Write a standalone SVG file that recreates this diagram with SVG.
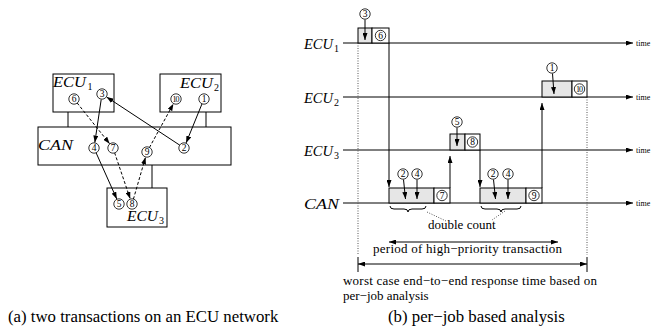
<svg xmlns="http://www.w3.org/2000/svg" width="653" height="328" viewBox="0 0 653 328">
<style>
.box{fill:#fff;stroke:#000;stroke-width:1}
.job{fill:#e6e6e6;stroke:#000;stroke-width:1}
.ln{fill:none;stroke:#000;stroke-width:1}
.dot{fill:none;stroke:#555;stroke-width:1;stroke-dasharray:1,1.5}
.arr{fill:none;stroke:#000;stroke-width:1;marker-end:url(#ah)}
.arrd{fill:none;stroke:#000;stroke-width:1;stroke-dasharray:3,2;marker-end:url(#ah)}
.cn circle{fill:#fff;stroke:#000;stroke-width:0.8}
.cn text{font-size:9.5px;text-anchor:middle}
.cn text.ten{font-size:8px;letter-spacing:-0.9px}
.lbl{font-style:italic;font-size:15px}
.sub{font-size:10px}
.txt{font-size:13px}
.cap{font-size:16.8px}
.time{font-size:8px}
</style>
<defs>
<marker id="ah" markerWidth="7" markerHeight="5" refX="7" refY="2.5" orient="auto" markerUnits="userSpaceOnUse"><path d="M0,0 L7,2.5 L0,5 z" fill="#000"/></marker>
<marker id="ahs" markerWidth="7" markerHeight="5" refX="0" refY="2.5" orient="auto" markerUnits="userSpaceOnUse"><path d="M7,0 L0,2.5 L7,5 z" fill="#000"/></marker>
</defs>
<g font-family="'Liberation Serif', 'Times New Roman', 'DejaVu Serif', serif">

<!-- (a) network -->
<g id="links-a">
<line class="ln" x1="68" y1="112" x2="68" y2="127"/>
<line class="ln" x1="206" y1="112" x2="206" y2="127"/>
<line class="ln" x1="152" y1="165" x2="152" y2="188"/>
</g>
<g id="ECU1-a">
<rect class="box" x="53" y="74" width="61" height="38"/>
<text class="lbl" x="53" y="87" textLength="33" lengthAdjust="spacingAndGlyphs">ECU</text><text class="sub" x="87.5" y="90">1</text>
</g>
<g id="ECU2-a">
<rect class="box" x="160" y="74" width="61" height="38"/>
<text class="lbl" x="180" y="88" textLength="33" lengthAdjust="spacingAndGlyphs">ECU</text><text class="sub" x="214" y="91">2</text>
</g>
<g id="CAN-a">
<rect class="box" x="38" y="127" width="193" height="38"/>
<text class="lbl" x="38" y="150" textLength="35" lengthAdjust="spacingAndGlyphs">CAN</text>
</g>
<g id="ECU3-a">
<rect class="box" x="107" y="188" width="60" height="39"/>
<text class="lbl" x="127" y="221" textLength="31" lengthAdjust="spacingAndGlyphs">ECU</text><text class="sub" x="159" y="224">3</text>
</g>
<g id="connectors-a">
<line class="arr" x1="101.2" y1="99.5" x2="94.8" y2="142.6"/>
<line class="arrd" x1="77.1" y1="102.9" x2="109.6" y2="143.7"/>
<line class="arr" x1="179.8" y1="145.2" x2="106.6" y2="97"/>
<line class="arr" x1="202.1" y1="103.6" x2="186.1" y2="142.9"/>
<line class="arr" x1="96" y1="152.6" x2="116.8" y2="199"/>
<line class="arrd" x1="114.6" y1="152.7" x2="130.2" y2="198.8"/>
<line class="arrd" x1="133.4" y1="199.2" x2="145.5" y2="157.3"/>
<line class="arrd" x1="149.4" y1="147.6" x2="173.4" y2="103.8"/>
</g>
<g id="nums-a" class="cn">
<circle cx="74" cy="99" r="5.2"/><text x="74" y="102.3">6</text>
<circle cx="102" cy="94" r="5.2"/><text x="102" y="97.3">3</text>
<circle cx="176" cy="99" r="5.2"/><text class="ten" x="175.6" y="101.8">10</text>
<circle cx="204" cy="99" r="5.2"/><text x="204" y="102.3">1</text>
<circle cx="94" cy="148" r="5.2"/><text x="94" y="151.3">4</text>
<circle cx="113" cy="148" r="5.2"/><text x="113" y="151.3">7</text>
<circle cx="147" cy="152" r="5.2"/><text x="147" y="155.3">9</text>
<circle cx="184" cy="148" r="5.2"/><text x="184" y="151.3">2</text>
<circle cx="119" cy="204" r="5.2"/><text x="119" y="207.3">5</text>
<circle cx="132" cy="204" r="5.2"/><text x="132" y="207.3">8</text>
</g>

<!-- (b) timeline -->
<g id="timelines">
<line class="arr" x1="343" y1="43" x2="633" y2="43"/>
<line class="arr" x1="343" y1="97" x2="633" y2="97"/>
<line class="arr" x1="343" y1="150" x2="633" y2="150"/>
<line class="arr" x1="343" y1="203" x2="633" y2="203"/>
<text class="time" x="636" y="46">time</text>
<text class="time" x="636" y="100">time</text>
<text class="time" x="636" y="153">time</text>
<text class="time" x="636" y="206">time</text>
<text class="lbl" x="304" y="49" textLength="29" lengthAdjust="spacingAndGlyphs">ECU</text><text class="sub" x="334" y="52">1</text>
<text class="lbl" x="304" y="103" textLength="29" lengthAdjust="spacingAndGlyphs">ECU</text><text class="sub" x="334" y="106">2</text>
<text class="lbl" x="304" y="156" textLength="29" lengthAdjust="spacingAndGlyphs">ECU</text><text class="sub" x="334" y="159">3</text>
<text class="lbl" x="304" y="209" textLength="35" lengthAdjust="spacingAndGlyphs">CAN</text>
</g>
<g id="guides">
<line class="dot" x1="358" y1="43" x2="358" y2="255"/>
<line class="dot" x1="587" y1="97" x2="587" y2="255"/>
</g>
<g id="job-ecu1">
<rect class="job" x="358" y="28" width="14" height="15"/>
<rect class="box" x="372" y="28" width="17" height="15"/>
</g>
<g id="job-can1">
<rect class="job" x="389" y="188" width="45" height="15"/>
<rect class="box" x="434" y="188" width="16" height="15"/>
</g>
<g id="job-ecu3">
<rect class="job" x="450" y="134" width="15" height="16"/>
<rect class="box" x="465" y="134" width="15" height="16"/>
</g>
<g id="job-can2">
<rect class="job" x="480" y="188" width="46" height="15"/>
<rect class="box" x="526" y="188" width="16" height="15"/>
</g>
<g id="job-ecu2">
<rect class="job" x="542" y="81" width="30" height="16"/>
<rect class="box" x="572" y="81" width="15" height="16"/>
</g>
<g id="connectors-b">
<line class="arr" x1="389" y1="43" x2="389" y2="187"/>
<line class="arr" x1="450" y1="188" x2="450" y2="156"/>
<line class="arr" x1="480" y1="150" x2="480" y2="187"/>
<line class="arr" x1="542" y1="188" x2="542" y2="103"/>
<line class="arr" x1="365" y1="19.5" x2="365" y2="40"/>
<line class="arr" x1="403.5" y1="179.5" x2="405.5" y2="199"/>
<line class="arr" x1="417" y1="179.5" x2="417" y2="199"/>
<line class="arr" x1="457" y1="127.5" x2="457" y2="146"/>
<line class="arr" x1="493.5" y1="179.5" x2="495.5" y2="199"/>
<line class="arr" x1="508" y1="179.5" x2="508" y2="199"/>
<line class="arr" x1="552.5" y1="73.5" x2="554" y2="94"/>
</g>
<g id="nums-b" class="cn">
<circle cx="365" cy="14" r="5.2"/><text x="365" y="17.3">3</text>
<circle cx="380.5" cy="35.5" r="5.2"/><text x="380.5" y="38.8">6</text>
<circle cx="403" cy="174" r="5.2"/><text x="403" y="177.3">2</text>
<circle cx="417" cy="174" r="5.2"/><text x="417" y="177.3">4</text>
<circle cx="442" cy="195.5" r="5.2"/><text x="442" y="198.8">7</text>
<circle cx="457" cy="122" r="5.2"/><text x="457" y="125.3">5</text>
<circle cx="472.5" cy="142" r="5.2"/><text x="472.5" y="145.3">8</text>
<circle cx="493" cy="174" r="5.2"/><text x="493" y="177.3">2</text>
<circle cx="508" cy="174" r="5.2"/><text x="508" y="177.3">4</text>
<circle cx="534" cy="195.5" r="5.2"/><text x="534" y="198.8">9</text>
<circle cx="552" cy="68" r="5.2"/><text x="552" y="71.3">1</text>
<circle cx="579.5" cy="89" r="5.2"/><text class="ten" x="579.1" y="91.8">10</text>
</g>
<g id="annotations">
<path class="ln" d="M390,206 q0,3 4,3 h10 q4,0 4,3 q0,-3 4,-3 h10 q4,0 4,-3"/>
<path class="ln" d="M481,206 q0,3 4,3 h12 q4,0 4,3 q0,-3 4,-3 h12 q4,0 4,-3"/>
<line class="dot" x1="427" y1="212" x2="446" y2="221"/>
<line class="dot" x1="505" y1="211" x2="492" y2="220"/>
<text class="txt" x="428" y="229">double count</text>
<line class="ln" x1="389" y1="242" x2="558" y2="242" marker-start="url(#ahs)" marker-end="url(#ah)"/>
<text class="txt" x="373" y="253" textLength="189">period of high−priority transaction</text>
<line class="ln" x1="358" y1="257" x2="358" y2="272"/>
<line class="ln" x1="587" y1="257" x2="587" y2="272"/>
<line class="ln" x1="358" y1="264" x2="587" y2="264" marker-start="url(#ahs)" marker-end="url(#ah)"/>
<text class="txt" x="343" y="285" textLength="254">worst case end−to−end response time based on</text>
<text class="txt" x="343" y="299.5">per−job analysis</text>
</g>
<g id="captions">
<text class="cap" x="8" y="322">(a) two transactions on an ECU network</text>
<text class="cap" x="388" y="322">(b) per−job based analysis</text>
</g>
</g>
</svg>
